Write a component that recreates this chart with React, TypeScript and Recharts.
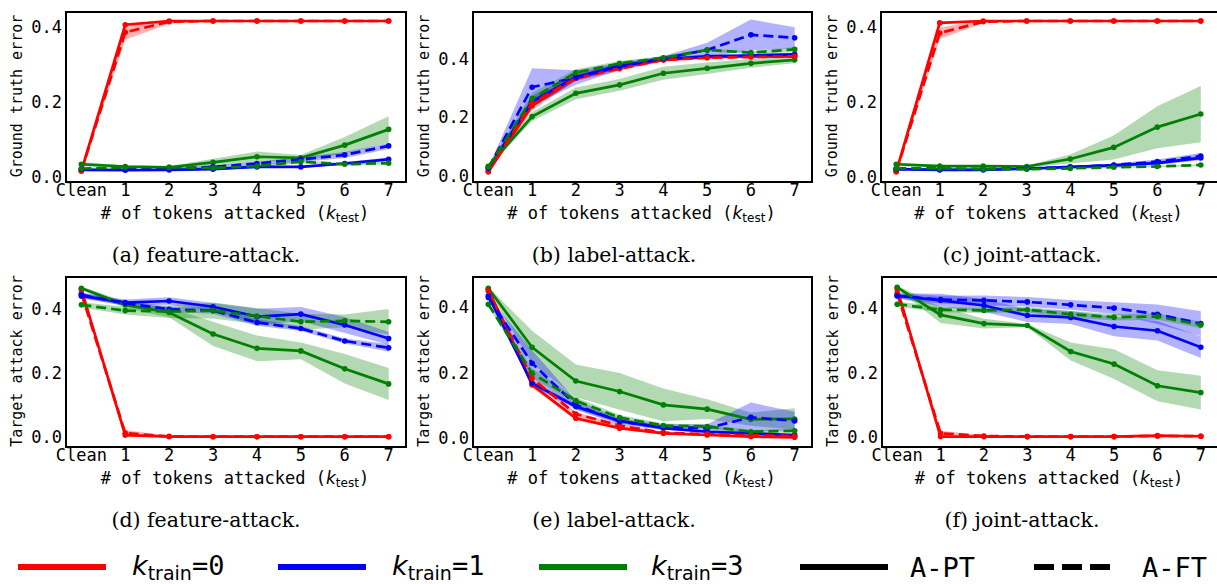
import React from 'react';
import { ComposedChart, Line, Area, XAxis, YAxis } from 'recharts';

// x positions: 0 = "Clean", then number of attacked tokens
const X_TICKS = [0, 1, 2, 3, 4, 5, 6, 7];
const X_LABELS = ['Clean', '1', '2', '3', '4', '5', '6', '7'];
const Y_TICKS = [0, 0.2, 0.4];

// (a) feature-attack, ground truth error
const A_R_PT = [0.015, 0.405, 0.415, 0.415, 0.415, 0.415, 0.415, 0.415];
const A_R_PT_SD = [0.002, 0.003, 0.002, 0.002, 0.002, 0.002, 0.002, 0.002];
const A_R_FT = [0.015, 0.385, 0.413, 0.415, 0.415, 0.415, 0.415, 0.415];
const A_R_FT_SD = [0.002, 0.02, 0.005, 0.002, 0.002, 0.002, 0.002, 0.002];
const A_B_PT = [0.018, 0.017, 0.018, 0.02, 0.026, 0.026, 0.035, 0.046];
const A_B_PT_SD = [0.002, 0.002, 0.002, 0.002, 0.003, 0.003, 0.004, 0.005];
const A_B_FT = [0.02, 0.02, 0.021, 0.026, 0.035, 0.046, 0.058, 0.082];
const A_B_FT_SD = [0.002, 0.002, 0.002, 0.003, 0.005, 0.007, 0.008, 0.008];
const A_G_PT = [0.033, 0.027, 0.025, 0.038, 0.053, 0.05, 0.084, 0.126];
const A_G_PT_SD = [0.006, 0.003, 0.003, 0.01, 0.014, 0.008, 0.022, 0.035];
const A_G_FT = [0.021, 0.025, 0.025, 0.023, 0.028, 0.04, 0.033, 0.036];
const A_G_FT_SD = [0.002, 0.002, 0.002, 0.002, 0.003, 0.004, 0.003, 0.003];

// (b) label-attack, ground truth error
const B_R_PT = [0.013, 0.24, 0.338, 0.375, 0.398, 0.408, 0.41, 0.41];
const B_R_PT_SD = [0.003, 0.015, 0.01, 0.008, 0.006, 0.005, 0.005, 0.005];
const B_R_FT = [0.015, 0.25, 0.335, 0.368, 0.398, 0.405, 0.408, 0.41];
const B_R_FT_SD = [0.003, 0.015, 0.01, 0.008, 0.006, 0.005, 0.005, 0.005];
const B_B_PT = [0.025, 0.255, 0.338, 0.378, 0.4, 0.41, 0.413, 0.417];
const B_B_PT_SD = [0.003, 0.02, 0.012, 0.01, 0.008, 0.006, 0.006, 0.006];
const B_B_FT = [0.025, 0.304, 0.337, 0.375, 0.403, 0.432, 0.484, 0.474];
const B_B_FT_SD = [0.003, 0.065, 0.025, 0.012, 0.008, 0.025, 0.053, 0.036];
const B_G_PT = [0.032, 0.203, 0.283, 0.312, 0.352, 0.369, 0.386, 0.398];
const B_G_PT_SD = [0.004, 0.015, 0.02, 0.02, 0.022, 0.02, 0.015, 0.012];
const B_G_FT = [0.03, 0.265, 0.354, 0.386, 0.405, 0.432, 0.423, 0.434];
const B_G_FT_SD = [0.004, 0.02, 0.012, 0.008, 0.006, 0.005, 0.005, 0.008];

// (c) joint-attack, ground truth error
const C_R_PT = [0.013, 0.41, 0.415, 0.415, 0.415, 0.415, 0.415, 0.415];
const C_R_PT_SD = [0.002, 0.002, 0.002, 0.002, 0.002, 0.002, 0.002, 0.002];
const C_R_FT = [0.013, 0.383, 0.413, 0.415, 0.415, 0.415, 0.415, 0.415];
const C_R_FT_SD = [0.002, 0.015, 0.004, 0.002, 0.002, 0.002, 0.002, 0.002];
const C_B_PT = [0.02, 0.018, 0.018, 0.021, 0.026, 0.03, 0.036, 0.05];
const C_B_PT_SD = [0.002, 0.002, 0.002, 0.002, 0.003, 0.004, 0.005, 0.006];
const C_B_FT = [0.02, 0.02, 0.02, 0.022, 0.025, 0.031, 0.04, 0.055];
const C_B_FT_SD = [0.002, 0.002, 0.002, 0.002, 0.003, 0.004, 0.006, 0.008];
const C_G_PT = [0.033, 0.028, 0.028, 0.027, 0.047, 0.078, 0.132, 0.167];
const C_G_PT_SD = [0.005, 0.003, 0.003, 0.003, 0.012, 0.032, 0.056, 0.075];
const C_G_FT = [0.022, 0.022, 0.02, 0.02, 0.022, 0.025, 0.027, 0.031];
const C_G_FT_SD = [0.002, 0.002, 0.002, 0.002, 0.002, 0.002, 0.002, 0.002];

// (d) feature-attack, target attack error
const D_R_PT = [0.462, 0.007, 0.002, 0.002, 0.002, 0.002, 0.002, 0.002];
const D_R_PT_SD = [0.003, 0.004, 0.001, 0.001, 0.001, 0.001, 0.001, 0.001];
const D_R_FT = [0.45, 0.013, 0.003, 0.002, 0.002, 0.002, 0.002, 0.002];
const D_R_FT_SD = [0.005, 0.01, 0.002, 0.001, 0.001, 0.001, 0.001, 0.001];
const D_B_PT = [0.442, 0.421, 0.426, 0.408, 0.377, 0.385, 0.351, 0.309];
const D_B_PT_SD = [0.008, 0.01, 0.012, 0.012, 0.025, 0.022, 0.025, 0.02];
const D_B_FT = [0.445, 0.419, 0.4, 0.396, 0.359, 0.34, 0.301, 0.28];
const D_B_FT_SD = [0.008, 0.008, 0.008, 0.01, 0.01, 0.008, 0.008, 0.012];
const D_G_PT = [0.466, 0.414, 0.39, 0.323, 0.278, 0.27, 0.214, 0.167];
const D_G_PT_SD = [0.006, 0.01, 0.015, 0.038, 0.04, 0.026, 0.046, 0.05];
const D_G_FT = [0.414, 0.396, 0.393, 0.396, 0.379, 0.361, 0.364, 0.361];
const D_G_FT_SD = [0.008, 0.012, 0.02, 0.025, 0.025, 0.025, 0.02, 0.04];

// (e) label-attack, target attack error
const E_R_PT = [0.455, 0.163, 0.061, 0.031, 0.015, 0.01, 0.005, 0.003];
const E_R_PT_SD = [0.004, 0.008, 0.006, 0.004, 0.003, 0.003, 0.002, 0.002];
const E_R_FT = [0.45, 0.183, 0.074, 0.039, 0.017, 0.013, 0.009, 0.007];
const E_R_FT_SD = [0.004, 0.008, 0.006, 0.004, 0.003, 0.003, 0.002, 0.002];
const E_B_PT = [0.435, 0.168, 0.097, 0.053, 0.031, 0.02, 0.015, 0.01];
const E_B_PT_SD = [0.004, 0.01, 0.008, 0.006, 0.005, 0.004, 0.004, 0.004];
const E_B_FT = [0.43, 0.229, 0.102, 0.051, 0.034, 0.031, 0.064, 0.053];
const E_B_FT_SD = [0.005, 0.04, 0.015, 0.01, 0.008, 0.012, 0.045, 0.028];
const E_G_PT = [0.458, 0.278, 0.175, 0.143, 0.102, 0.089, 0.058, 0.059];
const E_G_PT_SD = [0.004, 0.05, 0.05, 0.056, 0.05, 0.03, 0.02, 0.033];
const E_G_FT = [0.409, 0.199, 0.115, 0.063, 0.039, 0.036, 0.02, 0.023];
const E_G_FT_SD = [0.006, 0.015, 0.01, 0.008, 0.006, 0.006, 0.005, 0.005];

// (f) joint-attack, target attack error
const F_R_PT = [0.458, 0.002, 0.002, 0.002, 0.002, 0.002, 0.005, 0.003];
const F_R_PT_SD = [0.003, 0.002, 0.001, 0.001, 0.001, 0.001, 0.002, 0.001];
const F_R_FT = [0.445, 0.012, 0.004, 0.002, 0.002, 0.002, 0.004, 0.003];
const F_R_FT_SD = [0.005, 0.008, 0.002, 0.001, 0.001, 0.001, 0.002, 0.001];
const F_B_PT = [0.437, 0.423, 0.407, 0.376, 0.37, 0.342, 0.329, 0.278];
const F_B_PT_SD = [0.008, 0.02, 0.02, 0.02, 0.02, 0.03, 0.03, 0.033];
const F_B_FT = [0.437, 0.425, 0.423, 0.418, 0.409, 0.399, 0.38, 0.351];
const F_B_FT_SD = [0.008, 0.012, 0.015, 0.015, 0.015, 0.018, 0.03, 0.038];
const F_G_PT = [0.463, 0.378, 0.351, 0.345, 0.265, 0.226, 0.159, 0.138];
const F_G_PT_SD = [0.006, 0.025, 0.015, 0.005, 0.028, 0.046, 0.048, 0.052];
const F_G_FT = [0.411, 0.394, 0.392, 0.394, 0.38, 0.371, 0.373, 0.347];
const F_G_FT_SD = [0.008, 0.008, 0.008, 0.008, 0.01, 0.01, 0.01, 0.01];

const RED = '#ff0000';
const BLUE = '#0000ff';
const GREEN = '#008000';
const MONO = '"DejaVu Sans Mono", monospace';
const SANS = '"DejaVu Sans", sans-serif';
const SERIF = '"DejaVu Serif", serif';

interface Series {
  key: string;
  color: string;
  dashed: boolean;
  mean: number[];
  sd: number[];
}

const makeSeries = (
  r: number[][], b: number[][], g: number[][], rf: number[][], bf: number[][], gf: number[][],
): Series[] => [
  { key: 'rpt', color: RED, dashed: false, mean: r[0], sd: r[1] },
  { key: 'bpt', color: BLUE, dashed: false, mean: b[0], sd: b[1] },
  { key: 'gpt', color: GREEN, dashed: false, mean: g[0], sd: g[1] },
  { key: 'rft', color: RED, dashed: true, mean: rf[0], sd: rf[1] },
  { key: 'bft', color: BLUE, dashed: true, mean: bf[0], sd: bf[1] },
  { key: 'gft', color: GREEN, dashed: true, mean: gf[0], sd: gf[1] },
];

interface PanelProps {
  left: number;
  top: number;
  width: number;
  height: number;
  yDomain: [number, number];
  yLabel: string;
  series: Series[];
}

const ML = 66;
const MT = 8;
const MR = 6;
const XH = 44;

const Panel: React.FC<PanelProps> = ({ left, top, width, height, yDomain, yLabel, series }) => {
  const data = X_TICKS.map((x, i) => {
    const row: Record<string, number | number[]> = { x };
    series.forEach((s) => {
      row[s.key] = s.mean[i];
      row[s.key + 'Band'] = [s.mean[i] - s.sd[i], s.mean[i] + s.sd[i]];
    });
    return row;
  });

  return (
    <>
      <div style={{ position: 'absolute', left: left - ML, top: top - MT }}>
        <ComposedChart
          width={width + ML + MR}
          height={height + MT + XH}
          data={data}
          margin={{ top: MT, right: MR, left: 0, bottom: 0 }}
        >
          <XAxis
            dataKey="x"
            type="number"
            domain={[-0.35, 7.35]}
            allowDataOverflow
            ticks={X_TICKS}
            interval={0}
            tickFormatter={(v: number) => X_LABELS[v]}
            axisLine={false}
            tickLine={false}
            tickSize={2}
            height={XH}
            tick={{ fill: '#000', fontSize: 17, fontFamily: MONO }}
          />
          <YAxis
            type="number"
            domain={yDomain}
            allowDataOverflow
            ticks={Y_TICKS}
            interval={0}
            tickFormatter={(v: number) => v.toFixed(1)}
            axisLine={false}
            tickLine={false}
            tickSize={2}
            width={ML}
            tick={{ fill: '#000', fontSize: 17, fontFamily: MONO }}
          />
          {series.map((s) => (
            <Area
              key={s.key + 'Band'}
              type="linear"
              dataKey={s.key + 'Band'}
              stroke="none"
              fill={s.color}
              fillOpacity={0.3}
              dot={false}
              activeDot={false}
              isAnimationActive={false}
            />
          ))}
          {series.map((s) => (
            <Line
              key={s.key}
              type="linear"
              dataKey={s.key}
              stroke={s.color}
              strokeWidth={2.7}
              strokeDasharray={s.dashed ? '10 5' : undefined}
              dot={{ r: 2.8, fill: s.color, stroke: s.color, strokeWidth: 0, strokeDasharray: '' }}
              activeDot={false}
              isAnimationActive={false}
            />
          ))}
        </ComposedChart>
      </div>
      {/* frame */}
      <div
        style={{
          position: 'absolute',
          left: left - 1,
          top: top - 1,
          width,
          height,
          border: '2px solid #000',
          pointerEvents: 'none',
        }}
      />
      {/* y label */}
      <div
        style={{
          position: 'absolute',
          left: left - 49,
          top: top + height / 2,
          transform: 'translate(-50%, -50%) rotate(-90deg)',
          fontFamily: MONO,
          fontSize: 15,
          whiteSpace: 'nowrap',
          lineHeight: 1,
        }}
      >
        {yLabel}
      </div>
      {/* x label */}
      <div
        style={{
          position: 'absolute',
          left: left + width / 2,
          top: top + height + 34,
          transform: 'translate(-50%, -50%)',
          fontFamily: MONO,
          fontSize: 17,
          whiteSpace: 'nowrap',
          lineHeight: 1,
        }}
      >
        # of tokens attacked (
        <span style={{ fontFamily: SANS, fontStyle: 'italic' }}>k</span>
        <sub style={{ fontFamily: SANS, fontSize: 12, verticalAlign: -3 }}>test</sub>)
      </div>
    </>
  );
};

const Caption: React.FC<{ x: number; y: number; text: string }> = ({ x, y, text }) => (
  <div
    style={{
      position: 'absolute',
      left: x,
      top: y,
      transform: 'translate(-50%, -50%)',
      fontFamily: SERIF,
      fontSize: 20.5,
      whiteSpace: 'nowrap',
      lineHeight: 1,
    }}
  >
    {text}
  </div>
);

const LegendLine: React.FC<{ x: number; color: string; dashed?: boolean }> = ({ x, color, dashed }) => (
  <svg style={{ position: 'absolute', left: x, top: 562 }} width={90} height={10}>
    {dashed ? (
      <line x1={0} y1={5} x2={76} y2={5} stroke={color} strokeWidth={6} strokeDasharray="20 8" />
    ) : (
      <line x1={0} y1={5} x2={88} y2={5} stroke={color} strokeWidth={6} />
    )}
  </svg>
);

const LegendText: React.FC<{ x: number; children: React.ReactNode }> = ({ x, children }) => (
  <div
    style={{
      position: 'absolute',
      left: x,
      top: 567,
      transform: 'translateY(-50%)',
      fontFamily: MONO,
      fontSize: 27,
      whiteSpace: 'nowrap',
      lineHeight: 1,
    }}
  >
    {children}
  </div>
);

const KTrain: React.FC<{ v: string }> = ({ v }) => (
  <>
    <span style={{ fontFamily: SANS, fontStyle: 'italic' }}>k</span>
    <sub style={{ fontFamily: SANS, fontSize: 19, verticalAlign: -5 }}>train</sub>={v}
  </>
);

export default function App() {
  const sA = makeSeries([A_R_PT, A_R_PT_SD], [A_B_PT, A_B_PT_SD], [A_G_PT, A_G_PT_SD], [A_R_FT, A_R_FT_SD], [A_B_FT, A_B_FT_SD], [A_G_FT, A_G_FT_SD]);
  const sB = makeSeries([B_R_PT, B_R_PT_SD], [B_B_PT, B_B_PT_SD], [B_G_PT, B_G_PT_SD], [B_R_FT, B_R_FT_SD], [B_B_FT, B_B_FT_SD], [B_G_FT, B_G_FT_SD]);
  const sC = makeSeries([C_R_PT, C_R_PT_SD], [C_B_PT, C_B_PT_SD], [C_G_PT, C_G_PT_SD], [C_R_FT, C_R_FT_SD], [C_B_FT, C_B_FT_SD], [C_G_FT, C_G_FT_SD]);
  const sD = makeSeries([D_R_PT, D_R_PT_SD], [D_B_PT, D_B_PT_SD], [D_G_PT, D_G_PT_SD], [D_R_FT, D_R_FT_SD], [D_B_FT, D_B_FT_SD], [D_G_FT, D_G_FT_SD]);
  const sE = makeSeries([E_R_PT, E_R_PT_SD], [E_B_PT, E_B_PT_SD], [E_G_PT, E_G_PT_SD], [E_R_FT, E_R_FT_SD], [E_B_FT, E_B_FT_SD], [E_G_FT, E_G_FT_SD]);
  const sF = makeSeries([F_R_PT, F_R_PT_SD], [F_B_PT, F_B_PT_SD], [F_G_PT, F_G_PT_SD], [F_R_FT, F_R_FT_SD], [F_B_FT, F_B_FT_SD], [F_G_FT, F_G_FT_SD]);

  return (
    <div style={{ position: 'fixed', left: 0, top: 0, width: 1217, height: 584, background: '#fff', overflow: 'hidden', color: '#000' }}>
      <Panel left={66} top={12} width={338} height={168} yDomain={[-0.009, 0.439]} yLabel="Ground truth error" series={sA} />
      <Panel left={473} top={12} width={337} height={168} yDomain={[-0.015, 0.5625]} yLabel="Ground truth error" series={sB} />
      <Panel left={881} top={12} width={335} height={168} yDomain={[-0.009, 0.439]} yLabel="Ground truth error" series={sC} />
      <Panel left={66} top={277} width={338} height={168} yDomain={[-0.024, 0.501]} yLabel="Target attack error" series={sD} />
      <Panel left={473} top={277} width={337} height={168} yDomain={[-0.0205, 0.4925]} yLabel="Target attack error" series={sE} />
      <Panel left={882} top={277} width={334} height={168} yDomain={[-0.024, 0.495]} yLabel="Target attack error" series={sF} />

      <Caption x={206} y={255} text="(a) feature-attack." />
      <Caption x={614} y={255} text="(b) label-attack." />
      <Caption x={1022} y={255} text="(c) joint-attack." />
      <Caption x={206} y={520} text="(d) feature-attack." />
      <Caption x={614} y={520} text="(e) label-attack." />
      <Caption x={1022} y={520} text="(f) joint-attack." />

      <LegendLine x={18} color={RED} />
      <LegendText x={132}><KTrain v="0" /></LegendText>
      <LegendLine x={278} color={BLUE} />
      <LegendText x={392}><KTrain v="1" /></LegendText>
      <LegendLine x={539} color={GREEN} />
      <LegendText x={651}><KTrain v="3" /></LegendText>
      <LegendLine x={800} color="#000" />
      <LegendText x={910}>A-PT</LegendText>
      <LegendLine x={1034} color="#000" dashed />
      <LegendText x={1142}>A-FT</LegendText>
    </div>
  );
}
